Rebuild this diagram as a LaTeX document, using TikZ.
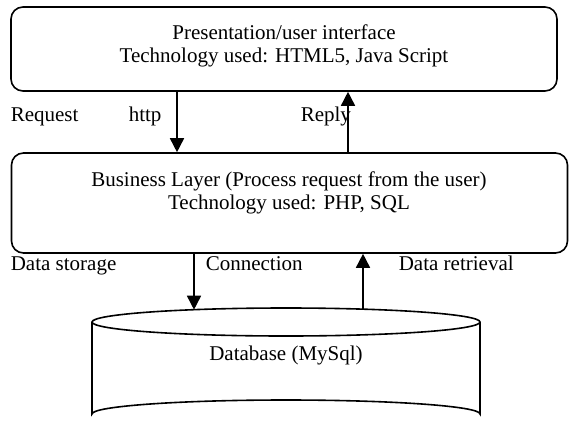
\documentclass[tikz,border=0pt]{standalone}
\usepackage{fontspec}
\setmainfont{Liberation Serif}
\usetikzlibrary{arrows.meta}
\begin{document}
\begin{tikzpicture}[x=1pt,y=-1pt,
  line width=1.6pt,
  box/.style={draw, rounded corners=12pt, minimum width=#1, inner sep=0pt},
  txt/.style={font=\fontsize{21}{23}\selectfont, align=center, inner sep=0pt},
  lbl/.style={font=\fontsize{21}{23}\selectfont, anchor=base west, inner sep=0pt},
  arr/.style={-{Triangle[width=14pt,length=14pt]}}
]
\useasboundingbox (0,0) rectangle (569,423);
\node[box=546pt, minimum height=84pt] (pres) at (284,49) {};
\node[txt] (prestxt) at (284,45.5) {Presentation/user interface\\Technology used: HTML5, Java Script};
\node[box=556pt, minimum height=100pt] (biz) at (289.5,203) {};
\node[txt] (biztxt) at (289,192.5) {Business Layer (Process request from the user)\\Technology used: PHP, SQL};
% cylinder
\draw (92,322) -- (92,414) arc[start angle=180, end angle=360, x radius=194, y radius=14] -- (480,322);
\draw (286,322) ellipse[x radius=194, y radius=14];
\coordinate (dbin) at (194,309.7);
\coordinate (dbout) at (363,309.1);
\node[txt] (db) at (286,355) {Database (MySql)};
% arrows
\draw[arr] (pres.south -| 177,0) -- (biz.north -| 177,0);
\draw[arr] (biz.north -| 348,0) -- (pres.south -| 348,0);
\draw[arr] (biz.south -| 194,0) -- (dbin);
\draw[arr] (dbout) -- (biz.south -| 363,0);
% labels
\node[lbl] (req) at (10,121.5) {Request};
\node[lbl] (http) at (128,121.5) {http};
\node[lbl] (reply) at (300,121.5) {Reply};
\node[lbl] (store) at (10,270) {Data storage};
\node[lbl] (conn) at (205,270) {Connection};
\node[lbl] (retr) at (398,270) {Data retrieval};
\end{tikzpicture}
\end{document}
